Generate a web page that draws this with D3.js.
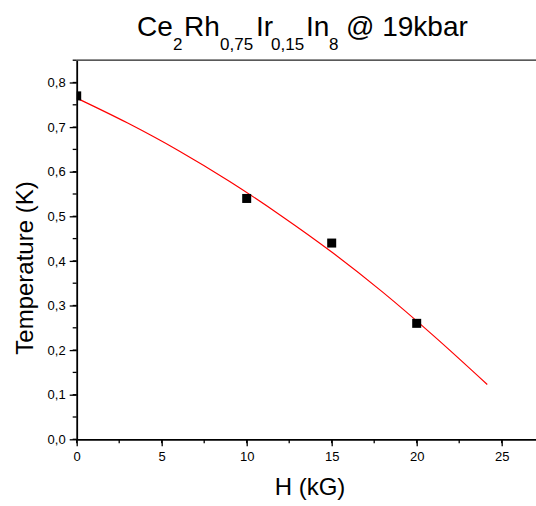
<!DOCTYPE html>
<html>
<head>
<meta charset="utf-8">
<script src="https://cdn.jsdelivr.net/npm/d3@7"></script>
<style>
  body { margin: 0; background: #fff; }
  svg { font-family: "Liberation Sans", Arial, sans-serif; }
</style>
</head>
<body>
<svg id="chart" width="536" height="506"></svg>
<script>
// measured points
const fieldKG = [0, 10, 15, 20];
const tempK = [0.77, 0.54, 0.44, 0.26];

// red fit line
const fitField = [0, 3, 6, 9, 12, 15, 18, 21, 24.15];
const fitTemp = [0.765, 0.709, 0.647, 0.578, 0.502, 0.42, 0.33, 0.232, 0.123];

const xTicks = [0, 5, 10, 15, 20, 25];
const yTicks = [0, 0.1, 0.2, 0.3, 0.4, 0.5, 0.6, 0.7, 0.8];

const svg = d3.select("#chart");

const x = d3.scaleLinear().domain([0, 27]).range([76.7, 535.7]);
const y = d3.scaleLinear().domain([0, 0.85]).range([439.3, 60.2]);

const fmt = (d) => d3.format(".1f")(d).replace(".", ",");

// clip plot area so marks stay inside the axes
svg.append("clipPath")
  .attr("id", "plotArea")
  .append("rect")
  .attr("x", x(0)).attr("y", y(0.85))
  .attr("width", 536 - x(0)).attr("height", y(0) - y(0.85));

// top frame line
svg.append("line")
  .attr("x1", x(0)).attr("x2", 536)
  .attr("y1", y(0.85)).attr("y2", y(0.85))
  .attr("stroke", "#222")
  .attr("stroke-width", 1.3);

// minor ticks
const xMinor = d3.range(0, 27.01, 2.5);
svg.append("g")
  .selectAll("line")
  .data(xMinor)
  .join("line")
  .attr("x1", (d) => x(d)).attr("x2", (d) => x(d))
  .attr("y1", y(0)).attr("y2", y(0) + 4)
  .attr("stroke", "#000").attr("stroke-width", 1.3);

const yMinor = d3.range(0, 0.851, 0.05);
svg.append("g")
  .selectAll("line")
  .data(yMinor)
  .join("line")
  .attr("x1", x(0) - 4).attr("x2", x(0))
  .attr("y1", (d) => y(d)).attr("y2", (d) => y(d))
  .attr("stroke", "#000").attr("stroke-width", 1.3);

const plot = svg.append("g").attr("clip-path", "url(#plotArea)");

// fit curve
const line = d3.line()
  .x((d) => x(d[0]))
  .y((d) => y(d[1]))
  .curve(d3.curveMonotoneX);

plot.append("path")
  .datum(fitField.map((h, i) => [h, fitTemp[i]]))
  .attr("d", line)
  .attr("fill", "none")
  .attr("stroke", "#ff0000")
  .attr("stroke-width", 1.2);

// data squares
const sq = 9;
plot.append("g")
  .selectAll("rect")
  .data(fieldKG.map((h, i) => [h, tempK[i]]))
  .join("rect")
  .attr("x", (d) => x(d[0]) - sq / 2)
  .attr("y", (d) => y(d[1]) - sq / 2)
  .attr("width", sq)
  .attr("height", sq)
  .attr("fill", "#000");

// axes
const xAxis = svg.append("g")
  .attr("transform", `translate(0,${y(0)})`)
  .call(d3.axisBottom(x).tickValues(xTicks).tickSize(7).tickPadding(5).tickSizeOuter(0));

const yAxis = svg.append("g")
  .attr("transform", `translate(${x(0)},0)`)
  .call(d3.axisLeft(y).tickValues(yTicks).tickFormat(fmt).tickSize(7).tickPadding(4).tickSizeOuter(0));

[xAxis, yAxis].forEach((g) => {
  g.attr("font-family", "Liberation Sans, Arial, sans-serif").attr("font-size", 13);
  g.selectAll("line").attr("stroke-width", 1.3);
  g.select(".domain").attr("stroke-width", 1.8);
});

// axis titles
svg.append("text")
  .attr("x", 310).attr("y", 495)
  .attr("text-anchor", "middle")
  .attr("font-size", 24)
  .text("H (kG)");

svg.append("text")
  .attr("transform", "translate(33,268) rotate(-90)")
  .attr("text-anchor", "middle")
  .attr("font-size", 24)
  .text("Temperature (K)");

// title with subscripts
const title = svg.append("text").attr("font-size", 28).attr("y", 36);
const parts = [
  { t: "Ce", x: 137, sub: false },
  { t: "2", x: 173, sub: true },
  { t: "Rh", x: 184, sub: false },
  { t: "0,75", x: 220, sub: true },
  { t: "Ir", x: 256, sub: false },
  { t: "0,15", x: 271, sub: true },
  { t: "In", x: 306, sub: false },
  { t: "8", x: 329, sub: true },
  { t: "@ 19kbar", x: 346, sub: false },
];
parts.forEach((p) => {
  title.append("tspan")
    .attr("x", p.x)
    .attr("y", p.sub ? 50 : 36)
    .attr("font-size", p.sub ? 17 : 28)
    .text(p.t);
});
</script>
</body>
</html>
